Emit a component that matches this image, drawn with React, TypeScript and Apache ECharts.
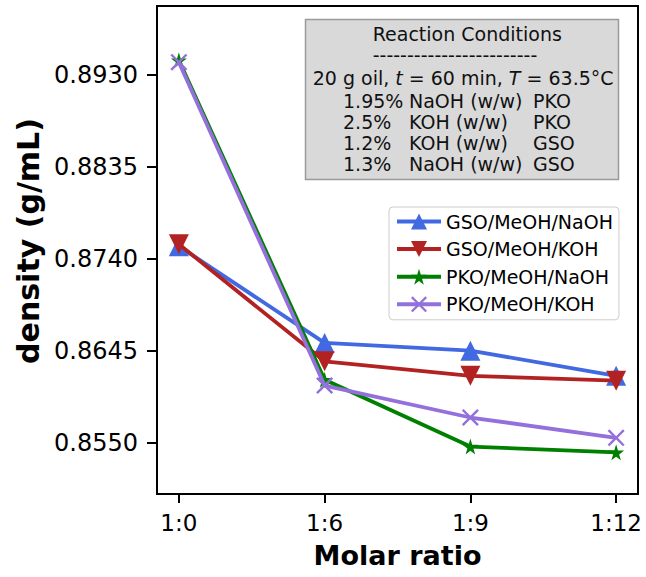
import React, { useEffect, useRef } from "react";
import * as echarts from "echarts";

const categories = ["1:0", "1:6", "1:9", "1:12"];
const xPositions = [0, 1, 2, 3];
const yTicks = [0.855, 0.8645, 0.874, 0.8835, 0.893];

const gsoNaOH = [0.8753, 0.8653, 0.8645, 0.8619];
const gsoKOH = [0.8755, 0.8634, 0.8619, 0.8614];
const pkoNaOH = [0.8945, 0.8615, 0.8546, 0.854];
const pkoKOH = [0.8943, 0.8609, 0.8576, 0.8555];

const seriesNames = ["GSO/MeOH/NaOH", "GSO/MeOH/KOH", "PKO/MeOH/NaOH", "PKO/MeOH/KOH"];
const seriesColors = ["#4169E1", "#B22222", "#008000", "#9370DB"];

const conditionTitle = "Reaction Conditions";
const conditionDashes = "------------------------";
const conditionRows = [
  ["1.95% ", "NaOH (w/w) ", "PKO"],
  ["2.5% ", "KOH (w/w) ", "PKO"],
  ["1.2% ", "KOH (w/w) ", "GSO"],
  ["1.3% ", "NaOH (w/w) ", "GSO"],
];

const STAR =
  "path://M50,0 L61,35 L98,35 L68,57 L79,91 L50,70 L21,91 L32,57 L2,35 L39,35 Z";
const CROSS =
  "path://M0,1 L1,0 L5,4 L9,0 L10,1 L6,5 L10,9 L9,10 L5,6 L1,10 L0,9 L4,5 Z";

const FONT = "DejaVu Sans";

export default function App() {
  const ref = useRef<HTMLDivElement>(null);
  useEffect(() => {
    if (!ref.current) return;
    const chart = echarts.init(ref.current, undefined, { renderer: "svg" });
    const toPairs = (arr: number[]) => arr.map((v, i) => [xPositions[i], v]);
    const symbols = ["triangle", "triangle", STAR, CROSS];
    const rotates = [0, 180, 0, 0];
    const sizes = [20, 20, 16, 17];
    const datasets = [gsoNaOH, gsoKOH, pkoNaOH, pkoKOH];
    const fs = 19;
    const rowsGraphic = conditionRows.map((r, i) => ({
      type: "text",
      x: 343,
      y: 100.7 + i * 21.2,
      z: 11,
      style: {
        text: `{a|${r[0]}}{b|${r[1]}}{c|${r[2]}}`,
        verticalAlign: "middle",
        align: "left",
        fill: "#111",
        font: `${fs}px ${FONT}`,
        lineHeight: 20,
        rich: {
          a: { width: 66, fontSize: fs, fontFamily: FONT, fill: "#111", lineHeight: 20 },
          b: { width: 124, fontSize: fs, fontFamily: FONT, fill: "#111", lineHeight: 20 },
          c: { fontSize: fs, fontFamily: FONT, fill: "#111", lineHeight: 20 },
        },
      },
    }));
    chart.setOption({
      animation: false,
      backgroundColor: "#fff",
      grid: {
        left: 157,
        right: 8,
        top: 6,
        bottom: 83,
        show: true,
        borderColor: "#000",
        borderWidth: 2,
        outerBoundsMode: "none",
        containLabel: false,
      },
      xAxis: {
        type: "value",
        min: -0.15,
        max: 3.15,
        name: "Molar ratio",
        nameLocation: "middle",
        nameGap: 48,
        nameTextStyle: { fontFamily: FONT, fontSize: 27, fontWeight: "bold", color: "#000" },
        axisLine: { show: true, onZero: false, lineStyle: { color: "#000", width: 2 } },
        axisTick: { show: true, length: 9, lineStyle: { color: "#000", width: 2 }, customValues: xPositions },
        axisLabel: {
          customValues: xPositions,
          formatter: (v: number) => categories[Math.round(v)],
          fontFamily: FONT,
          fontSize: 23,
          color: "#000",
          margin: 17,
        },
        splitLine: { show: false },
      },
      yAxis: {
        type: "value",
        min: 0.8497,
        max: 0.9001,
        name: "density (g/mL)",
        nameLocation: "middle",
        nameGap: 112,
        nameTextStyle: {
          fontFamily: FONT,
          fontSize: 30,
          fontWeight: "bold",
          color: "#000",
          padding: [0, 0, 0, 18],
        },
        axisLine: { show: true, onZero: false, lineStyle: { color: "#000", width: 2 } },
        axisTick: { show: true, length: 10, lineStyle: { color: "#000", width: 2 }, customValues: yTicks },
        axisLabel: {
          customValues: yTicks,
          formatter: (v: number) => v.toFixed(4),
          fontFamily: FONT,
          fontSize: 24,
          color: "#000",
          margin: 19,
        },
        splitLine: { show: false },
      },
      legend: {
        orient: "vertical",
        left: 389,
        top: 207,
        backgroundColor: "#fff",
        borderColor: "#ccc",
        borderWidth: 1,
        borderRadius: 4,
        padding: [5, 6, 6, 6],
        itemWidth: 44,
        itemHeight: 20,
        itemGap: 8.6,
        lineStyle: { width: 4 },
        textStyle: { fontFamily: FONT, fontSize: 19, color: "#000" },
        data: seriesNames,
      },
      series: datasets.map((d, i) => ({
        name: seriesNames[i],
        type: "line",
        data: toPairs(d),
        symbol: symbols[i],
        symbolRotate: rotates[i],
        symbolSize: sizes[i],
        showAllSymbol: true,
        lineStyle: { color: seriesColors[i], width: 3.8 },
        itemStyle: { color: seriesColors[i], borderWidth: 0 },
        z: 2 + i,
      })),
      graphic: [
        {
          type: "rect",
          shape: { x: 305.5, y: 19.5, width: 313, height: 160 },
          style: { fill: "#d9d9d9", stroke: "#9a9a9a", lineWidth: 1.5 },
          z: 10,
        },
        {
          type: "text",
          x: 372.7,
          y: 34,
          z: 11,
          style: { text: conditionTitle, font: `${fs}px ${FONT}`, fill: "#111", verticalAlign: "middle", align: "left", lineHeight: 19 },
        },
        {
          type: "text",
          x: 372.7,
          y: 55,
          z: 11,
          style: { text: conditionDashes, font: `${fs}px ${FONT}`, fill: "#111", verticalAlign: "middle", align: "left", lineHeight: 19 },
        },
        {
          type: "text",
          x: 312.7,
          y: 78,
          z: 11,
          style: {
            text: "{n|20 g oil, }{i|t}{n| = 60 min, }{i|T}{n| = 63.5°C}",
            font: `${fs}px ${FONT}`,
            fill: "#111",
            verticalAlign: "middle",
            align: "left",
            lineHeight: 20,
            rich: {
              n: { fontSize: fs, fontFamily: FONT, fill: "#111", lineHeight: 20 },
              i: { fontSize: fs, fontFamily: FONT, fontStyle: "italic", fill: "#111", lineHeight: 20 },
            },
          },
        },
        ...rowsGraphic,
      ],
    });
    return () => chart.dispose();
  }, []);
  return <div ref={ref} style={{ position: "fixed", left: 0, top: 0, width: 646, height: 577 }} />;
}
